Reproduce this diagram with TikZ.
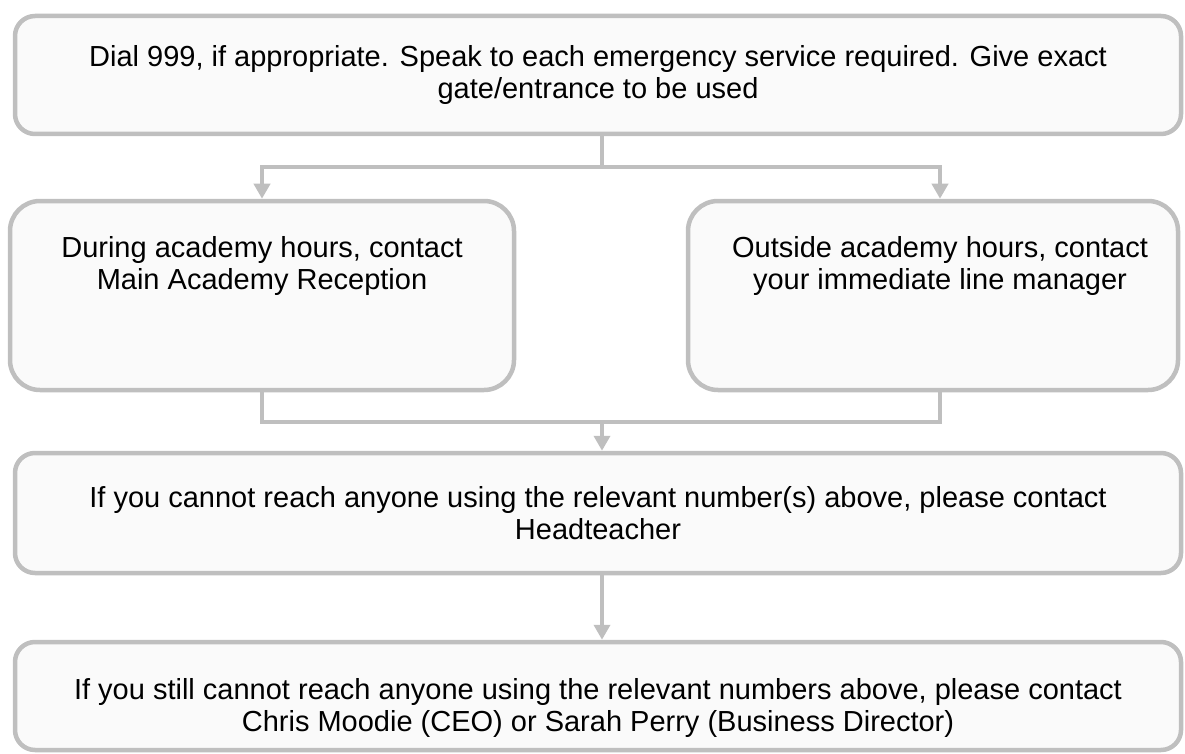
\documentclass[tikz,border=0pt]{standalone}
\usepackage{fontspec}
\setmainfont{Liberation Sans}
\usepackage{tikz}
\usepackage{xcolor}
\usetikzlibrary{arrows.meta, positioning}
\definecolor{flowline}{HTML}{BFBFBF}
\definecolor{flowfill}{HTML}{FAFAFA}
\tikzstyle{flowbox}=[draw=flowline, fill=flowfill, line width=4.5pt, rounded corners=20pt,
  align=center, inner sep=0pt, font=\fontsize{29}{32}\selectfont]
\tikzstyle{flowlink}=[draw=flowline, line width=4pt]
\tikzstyle{flowarrow}=[-{Triangle[width=16pt,length=15pt]}]

\begin{document}
\begin{tikzpicture}
        \useasboundingbox (0pt,0pt) rectangle (1185pt,-754pt);

        \node[flowbox, minimum width=1166pt, minimum height=118pt] (dial) at (598pt,-75pt)
          {Dial 999, if appropriate. Speak to each emergency service required. Give exact\\gate/entrance to be used};
        \node[flowbox, rounded corners=30pt, minimum width=504pt, minimum height=189pt,
          label={[anchor=north, align=center, inner sep=0pt, yshift=-38pt,
            font=\fontsize{29}{32}\selectfont]north:During academy hours, contact\\Main Academy Reception}]
          (during) at (262pt,-295.5pt) {};
        \node[flowbox, rounded corners=30pt, minimum width=490pt, minimum height=189pt,
          label={[anchor=north, align=center, inner sep=0pt, yshift=-38pt, xshift=7pt,
            font=\fontsize{29}{32}\selectfont]north:Outside academy hours, contact\\your immediate line manager}]
          (outside) at (933pt,-295.5pt) {};
        \node[flowbox, minimum width=1166pt, minimum height=120pt] (head) at (598pt,-513pt)
          {If you cannot reach anyone using the relevant number(s) above, please contact\\Headteacher};
        \node[flowbox, minimum width=1166pt, minimum height=108pt,
          label={[anchor=north, align=center, inner sep=0pt, yshift=-39pt,
            font=\fontsize{29}{32}\selectfont]north:If you still cannot reach anyone using the relevant numbers above, please contact\\Chris Moodie (CEO) or Sarah Perry (Business Director)}]
          (ceo) at (598pt,-696pt) {};

        \coordinate (split) at (602pt,-167pt);
        \coordinate (join) at (602pt,-422pt);

        \draw[flowlink] (dial.south -| split) -- (split);
        \draw[flowlink, flowarrow] (split) -| (during.north);
        \draw[flowlink, flowarrow] (split) -| ([xshift=7pt]outside.north);
        \draw[flowlink] (during.south) |- (join);
        \draw[flowlink] ([xshift=7pt]outside.south) |- (join);
        \draw[flowlink, flowarrow] (join) -- (head.north -| join);
        \draw[flowlink, flowarrow] (head.south -| join) -- (ceo.north -| join);
      \end{tikzpicture}
\end{document}
